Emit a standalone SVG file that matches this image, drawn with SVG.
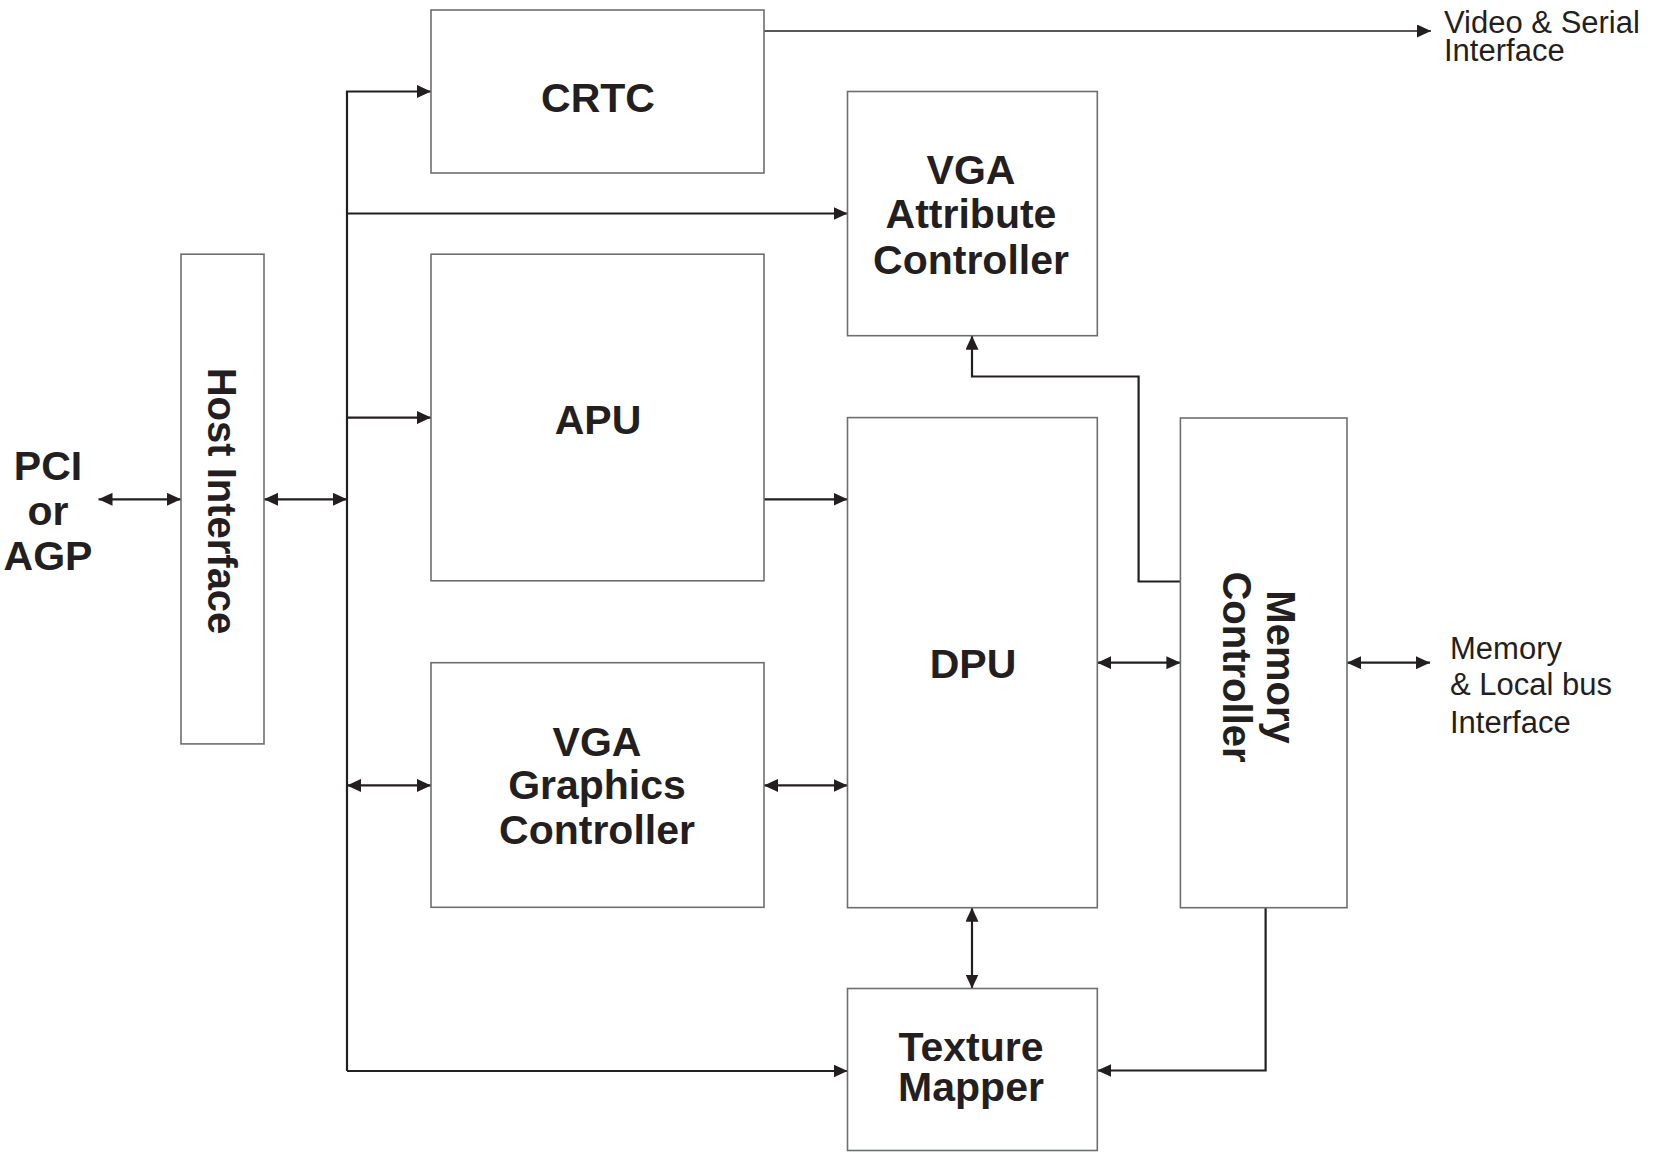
<svg xmlns="http://www.w3.org/2000/svg" width="1660" height="1152" viewBox="0 0 1660 1152">
<style>
.box{fill:#fff;stroke:#6d6e71;stroke-width:1.6}
.c{fill:none;stroke:#231f20;stroke-width:2.2}
.thin{fill:none;stroke:#231f20;stroke-width:1.5}
.b{font-family:"Liberation Sans",Arial,sans-serif;font-weight:bold;font-size:41px;fill:#231f20;text-anchor:middle}
.r{font-family:"Liberation Sans",Arial,sans-serif;font-weight:bold;font-size:40px;fill:#231f20;text-anchor:middle}
.n{font-family:"Liberation Sans",Arial,sans-serif;font-size:31px;fill:#231f20}
</style>
<defs>
<marker id="ah" markerUnits="userSpaceOnUse" markerWidth="14" markerHeight="13" refX="14" refY="6.5" orient="auto-start-reverse" viewBox="0 0 14 13">
<path d="M0,0 L14,6.5 L0,13 z" fill="#231f20"/>
</marker>
</defs>
<rect width="1660" height="1152" fill="#fff"/>
<g id="connectors">
<line class="thin" x1="764" y1="31" x2="1431" y2="31" marker-end="url(#ah)"/>
<path class="c" d="M347,1071 V91.5 H431" marker-end="url(#ah)"/>
<line class="c" x1="347" y1="213.5" x2="847.5" y2="213.5" marker-end="url(#ah)"/>
<line class="c" x1="347" y1="417.6" x2="431" y2="417.6" marker-end="url(#ah)"/>
<line class="c" x1="347" y1="1071" x2="847.5" y2="1071" marker-end="url(#ah)"/>
<line class="c" x1="98.5" y1="499.3" x2="181" y2="499.3" marker-start="url(#ah)" marker-end="url(#ah)"/>
<line class="c" x1="264" y1="499.3" x2="347" y2="499.3" marker-start="url(#ah)" marker-end="url(#ah)"/>
<line class="c" x1="347" y1="785.4" x2="431" y2="785.4" marker-start="url(#ah)" marker-end="url(#ah)"/>
<line class="c" x1="764" y1="499.3" x2="847.5" y2="499.3" marker-end="url(#ah)"/>
<line class="c" x1="764" y1="785.4" x2="847.5" y2="785.4" marker-start="url(#ah)" marker-end="url(#ah)"/>
<line class="c" x1="1097.3" y1="662.7" x2="1180.4" y2="662.7" marker-start="url(#ah)" marker-end="url(#ah)"/>
<line class="c" x1="1347" y1="662.7" x2="1430" y2="662.7" marker-start="url(#ah)" marker-end="url(#ah)"/>
<line class="c" x1="972" y1="907.7" x2="972" y2="988.5" marker-start="url(#ah)" marker-end="url(#ah)"/>
<path class="c" d="M1180.4,581.5 H1138.6 V376.5 H972 V335.7" marker-end="url(#ah)"/>
<path class="c" d="M1265.6,907.7 V1070.5 H1097.3" marker-end="url(#ah)"/>
</g>
<g id="crtc">
<rect class="box" x="431" y="10" width="333" height="163"/>
<text class="b" x="598" y="112">CRTC</text>
</g>
<g id="vga-attribute">
<rect class="box" x="847.5" y="91.5" width="249.8" height="244.2"/>
<text class="b"><tspan x="971" y="183.6">VGA</tspan><tspan x="971" y="227.7">Attribute</tspan><tspan x="971" y="273.6">Controller</tspan></text>
</g>
<g id="host-interface">
<rect class="box" x="181" y="254.2" width="83" height="489.7"/>
<text class="r" transform="translate(208,501) rotate(90)">Host Interface</text>
</g>
<g id="apu">
<rect class="box" x="431" y="254.2" width="333" height="326.6"/>
<text class="b" x="598" y="433.5">APU</text>
</g>
<g id="dpu">
<rect class="box" x="847.5" y="417.6" width="249.8" height="490.1"/>
<text class="b" x="973" y="678">DPU</text>
</g>
<g id="memory-controller">
<rect class="box" x="1180.4" y="418" width="166.6" height="489.7"/>
<text class="r" transform="translate(1267,667) rotate(90)"><tspan x="0" y="0">Memory</tspan><tspan x="0" y="44">Controller</tspan></text>
</g>
<g id="vga-graphics">
<rect class="box" x="431" y="662.7" width="333" height="244.6"/>
<text class="b"><tspan x="597" y="756">VGA</tspan><tspan x="597" y="799.3">Graphics</tspan><tspan x="597" y="844">Controller</tspan></text>
</g>
<g id="texture-mapper">
<rect class="box" x="847.5" y="988.5" width="249.8" height="162"/>
<text class="b"><tspan x="971" y="1060.8">Texture</tspan><tspan x="971" y="1101">Mapper</tspan></text>
</g>
<g id="pci">
<text class="b"><tspan x="48" y="480">PCI</tspan><tspan x="48" y="525">or</tspan><tspan x="48" y="570">AGP</tspan></text>
</g>
<g id="video-label">
<text class="n"><tspan x="1444" y="33">Video &amp; Serial</tspan><tspan x="1444" y="60.6">Interface</tspan></text>
</g>
<g id="memory-label">
<text class="n"><tspan x="1450" y="658.6">Memory</tspan><tspan x="1450" y="695.4">&amp; Local bus</tspan><tspan x="1450" y="733.2">Interface</tspan></text>
</g>
</svg>
